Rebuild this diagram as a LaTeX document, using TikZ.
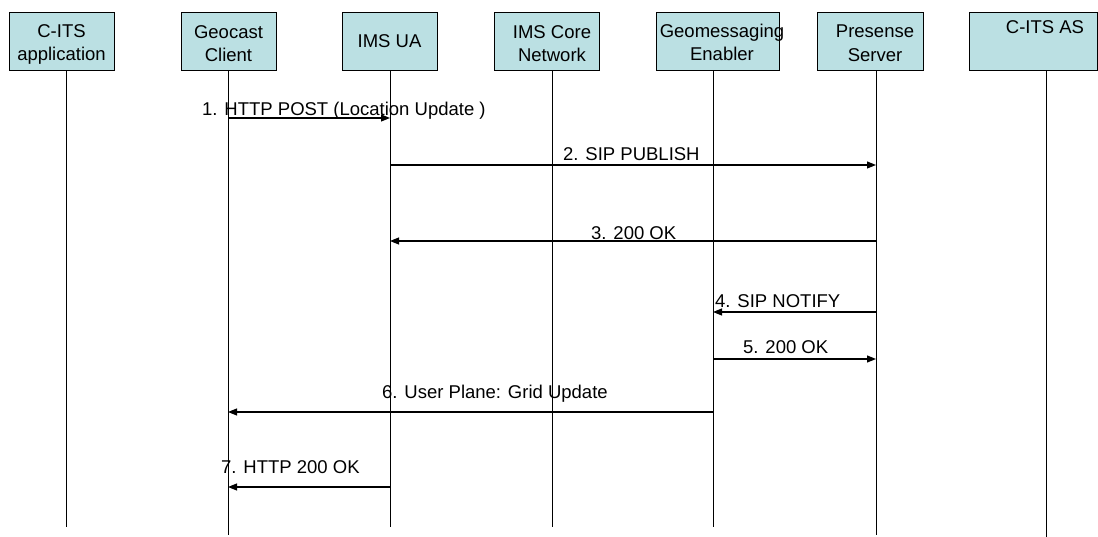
\documentclass[tikz,border=0pt]{standalone}
\usepackage{fontspec}
\setmainfont{Liberation Sans}
\usetikzlibrary{arrows.meta}
\definecolor{boxfill}{RGB}{187,224,227}
\begin{document}
\begin{tikzpicture}[x=1pt,y=-1pt,
  hdr/.style={draw=black,line width=1pt,fill=boxfill,inner sep=0pt,minimum height=58pt},
  life/.style={line width=1pt},
  msg/.style={line width=1.1pt,-{Triangle[length=9pt,width=7pt]}},
  lbl/.style={font=\fontsize{18.5}{22}\selectfont,anchor=base west,inner sep=0pt},
  htxt/.style={font=\fontsize{18.5}{23.5}\selectfont,align=center,inner sep=0pt,anchor=base}]
\useasboundingbox (0,0) rectangle (1098,537);
% header boxes
\node[hdr,minimum width=105pt] (bA)  at (61.5,42) {};
\node[hdr,minimum width=95pt]  (bGC) at (228.5,42) {};
\node[hdr,minimum width=95pt]  (bUA) at (389.5,42) {};
\node[hdr,minimum width=105pt] (bIC) at (546.5,42) {};
\node[hdr,minimum width=123pt] (bGE) at (717.5,42) {};
\node[hdr,minimum width=106pt] (bPS) at (870,42) {};
\node[hdr,minimum width=128pt] (bAS) at (1033,42) {};
% header texts (base = baseline of last line)
\node[htxt] (tA)  at (61.5,61) {C-ITS\\application};
\node[htxt] (tGC) at (228.5,62) {Geocast\\Client};
\node[htxt] (tUA) at (389.5,48) {IMS UA};
\node[htxt] (tIC) at (552,61.7) {IMS Core\\Network};
\node[htxt] (tGE) at (722,61) {Geomessaging\\Enabler};
\node[htxt] (tPS) at (875,61.5) {Presense\\Server};
\node[htxt] (tAS) at (1045,33.3) {C-ITS AS};
% lifelines
\coordinate (lA)  at (66,71);   \coordinate (eA)  at (66,527);
\coordinate (lGC) at (228,71);  \coordinate (eGC) at (228,535);
\coordinate (lUA) at (390,71);  \coordinate (eUA) at (390,527);
\coordinate (lIC) at (552,71);  \coordinate (eIC) at (552,527);
\coordinate (lGE) at (713,71);  \coordinate (eGE) at (713,527);
\coordinate (lPS) at (876,71);  \coordinate (ePS) at (876,535);
\coordinate (lAS) at (1046,71); \coordinate (eAS) at (1046,537);
\foreach \p in {A,GC,UA,IC,GE,PS,AS} \draw[life] (l\p) -- (e\p);
% messages
\draw[msg] (lGC |- 0,118) -- (lUA |- 0,118);
\node[lbl] (m1) at (202,116) {1. HTTP POST (Location Update )};
\draw[msg] (lUA |- 0,165) -- (lPS |- 0,165);
\node[lbl] (m2) at (563,161) {2. SIP PUBLISH};
\draw[msg] (lPS |- 0,241) -- (lUA |- 0,241);
\node[lbl] (m3) at (591,240) {3. 200 OK};
\draw[msg] (lPS |- 0,312) -- (lGE |- 0,312);
\node[lbl] (m4) at (715,308) {4. SIP NOTIFY};
\draw[msg] (lGE |- 0,359) -- (lPS |- 0,359);
\node[lbl] (m5) at (743,354) {5. 200 OK};
\draw[msg] (lGE |- 0,412) -- (lGC |- 0,412);
\node[lbl] (m6) at (382,398) {6. User Plane: Grid Update};
\draw[msg] (lUA |- 0,487) -- (lGC |- 0,487);
\node[lbl] (m7) at (221,473) {7. HTTP 200 OK};
\end{tikzpicture}
\end{document}
